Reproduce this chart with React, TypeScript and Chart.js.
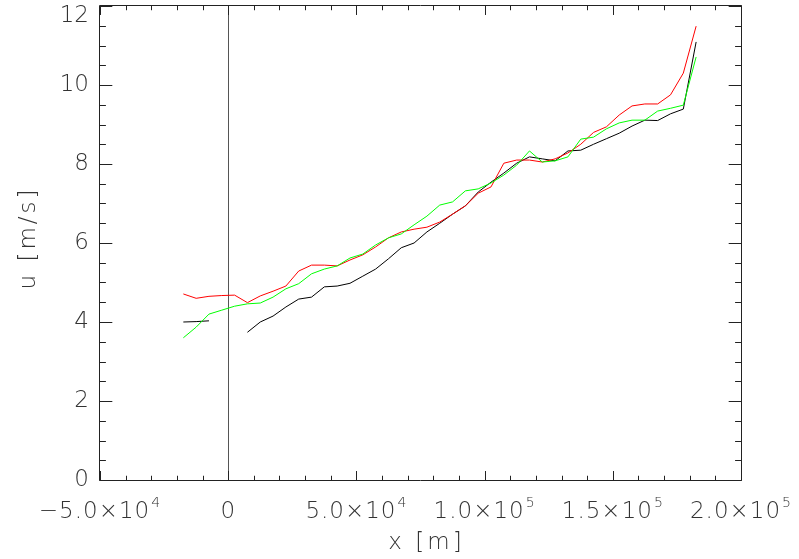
import { useEffect, useRef } from 'react';
import { Chart, registerables } from 'chart.js';

Chart.register(...registerables);

// Sample positions along x [m]
const xPositions = [
  -17500, -12500, -7500, -2500, 2500, 7500, 12500, 17500, 22500, 27500,
  32500, 37500, 42500, 47500, 52500, 57500, 62500, 67500, 72500, 77500,
  82500, 87500, 92500, 97500, 102500, 107500, 112500, 117500, 122500, 127500,
  132500, 137500, 142500, 147500, 152500, 157500, 162500, 167500, 172500, 177500,
  182500,
];

// u [m/s] — black series (gap between -7500 and 7500)
const uBlack = [
  4.0, 4.01, 4.03, null, null, 3.74, 4.0, 4.15, 4.38, 4.58,
  4.63, 4.89, 4.91, 4.98, 5.16, 5.34, 5.6, 5.88, 6.0, 6.28,
  6.5, 6.73, 6.94, 7.29, 7.54, 7.77, 8.02, 8.18, 8.13, 8.08,
  8.33, 8.35, 8.5, 8.64, 8.78, 8.96, 9.11, 9.1, 9.27, 9.39,
  11.09,
];

// u [m/s] — red series
const uRed = [
  4.71, 4.6, 4.65, 4.67, 4.68, 4.49, 4.66, 4.78, 4.91, 5.29,
  5.44, 5.44, 5.42, 5.57, 5.7, 5.9, 6.13, 6.28, 6.35, 6.4,
  6.53, 6.73, 6.94, 7.26, 7.42, 8.02, 8.1, 8.1, 8.05, 8.13,
  8.28, 8.5, 8.8, 8.94, 9.24, 9.47, 9.52, 9.52, 9.75, 10.3,
  11.49,
];

// u [m/s] — green series
const uGreen = [
  3.6, 3.87, 4.2, 4.3, 4.4, 4.46, 4.48, 4.63, 4.84, 4.97,
  5.22, 5.34, 5.42, 5.62, 5.72, 5.95, 6.13, 6.23, 6.46, 6.68,
  6.96, 7.04, 7.32, 7.37, 7.52, 7.72, 7.97, 8.33, 8.05, 8.08,
  8.18, 8.63, 8.68, 8.89, 9.04, 9.11, 9.11, 9.34, 9.41, 9.49,
  10.71,
];

// Axis tick labels
const xTickValues = [-50000, 0, 50000, 100000, 150000, 200000];
const xTickMantissa = ['\u22125.0\u00d710', '0', '5.0\u00d710', '1.0\u00d710', '1.5\u00d710', '2.0\u00d710'];
const xTickExponent = ['4', '', '4', '5', '5', '5'];
const yTickValues = [0, 2, 4, 6, 8, 10, 12];
const yTickLabels = ['0', '2', '4', '6', '8', '10', '12'];

const xTitle = 'x [m]';
const yTitle = 'u [m/s]';

const FONT_FAMILY = '"DejaVu Sans", "Liberation Sans", sans-serif';
const FONT_WEIGHT = '200';
const TEXT_COLOR = '#333333';

const idlAxesPlugin = {
  id: 'idlAxes',
  beforeDatasetsDraw(chart: any) {
    const { ctx, chartArea } = chart;
    const xs = chart.scales.x;
    const x0 = Math.round(xs.getPixelForValue(0)) + 0.5;
    ctx.save();
    ctx.strokeStyle = '#555';
    ctx.lineWidth = 1;
    ctx.beginPath();
    ctx.moveTo(x0, chartArea.top);
    ctx.lineTo(x0, chartArea.bottom);
    ctx.stroke();
    ctx.restore();
  },
  afterDraw(chart: any) {
    const { ctx, chartArea } = chart;
    const xs = chart.scales.x;
    const ys = chart.scales.y;
    const { left, right, top, bottom } = chartArea;
    const L = Math.round(left) - 0.5;
    const R = Math.round(right) + 0.5;
    const T = Math.round(top) - 0.5;
    const B = Math.round(bottom) + 0.5;
    const w = right - left;
    const h = bottom - top;

    ctx.save();
    ctx.strokeStyle = '#222';
    ctx.lineWidth = 1;
    ctx.beginPath();
    ctx.rect(L, T, R - L, B - T);
    ctx.stroke();

    // ticks (inward, on all four sides)
    const xMajor = h * 0.02;
    const yMajor = w * 0.02;
    ctx.beginPath();
    for (let v = xs.min; v <= xs.max + 1; v += 10000) {
      const px = Math.round(xs.getPixelForValue(v)) + 0.5;
      const len = v % 50000 === 0 ? xMajor : xMajor / 2;
      ctx.moveTo(px, B);
      ctx.lineTo(px, B - len);
      ctx.moveTo(px, T);
      ctx.lineTo(px, T + len);
    }
    for (let v = ys.min; v <= ys.max + 1e-6; v += 0.5) {
      const py = Math.round(ys.getPixelForValue(v)) + 0.5;
      const len = Math.abs(v % 2) < 1e-6 ? yMajor : yMajor / 2;
      ctx.moveTo(L, py);
      ctx.lineTo(L + len, py);
      ctx.moveTo(R, py);
      ctx.lineTo(R - len, py);
    }
    ctx.stroke();

    // tick labels
    ctx.fillStyle = TEXT_COLOR;
    const mainFont = `${FONT_WEIGHT} 23px ${FONT_FAMILY}`;
    const expFont = `${FONT_WEIGHT} 14px ${FONT_FAMILY}`;
    ctx.textBaseline = 'alphabetic';
    ctx.textAlign = 'left';
    (ctx as any).letterSpacing = '1px';
    xTickValues.forEach((v, i) => {
      const px = xs.getPixelForValue(v);
      ctx.font = mainFont;
      const m = xTickMantissa[i];
      const mw = ctx.measureText(m).width;
      ctx.font = expFont;
      const e = xTickExponent[i];
      const ew = e ? ctx.measureText(e).width + 1 : 0;
      const start = px - (mw + ew) / 2;
      const base = bottom + 38;
      ctx.font = mainFont;
      ctx.fillText(m, start, base);
      if (e) {
        ctx.font = expFont;
        ctx.fillText(e, start + mw + 1, base - 11);
      }
    });

    (ctx as any).letterSpacing = '0px';
    ctx.font = mainFont;
    ctx.textAlign = 'right';
    ctx.textBaseline = 'middle';
    yTickValues.forEach((v, i) => {
      const py = Math.max(ys.getPixelForValue(v), 16);
      ctx.fillText(yTickLabels[i], left - 11, py);
    });

    // axis titles
    (ctx as any).letterSpacing = '3px';
    ctx.font = `${FONT_WEIGHT} 23px ${FONT_FAMILY}`;
    ctx.textAlign = 'center';
    ctx.textBaseline = 'middle';
    ctx.fillText(xTitle, (left + right) / 2 + 6, bottom + 63);
    ctx.save();
    ctx.translate(left - 71, (top + bottom) / 2 - 5);
    ctx.rotate(-Math.PI / 2);
    ctx.fillText(yTitle, 0, 0);
    ctx.restore();
    ctx.restore();
  },
};

export default function App() {
  const canvasRef = useRef<HTMLCanvasElement | null>(null);

  useEffect(() => {
    const canvas = canvasRef.current;
    if (!canvas) return;
    const toPoints = (ys: (number | null)[]) => xPositions.map((x, i) => ({ x, y: ys[i] }));
    const chart = new Chart(canvas, {
      type: 'line',
      data: {
        datasets: [
          {
            label: 'black',
            data: toPoints(uBlack) as any,
            borderColor: '#000000',
            borderWidth: 1,
            pointRadius: 0,
            tension: 0,
            spanGaps: false,
            order: 3,
          },
          {
            label: 'red',
            data: toPoints(uRed) as any,
            borderColor: '#ff0000',
            borderWidth: 1,
            pointRadius: 0,
            tension: 0,
            order: 2,
          },
          {
            label: 'green',
            data: toPoints(uGreen) as any,
            borderColor: '#00ff00',
            borderWidth: 1,
            pointRadius: 0,
            tension: 0,
            order: 1,
          },
        ],
      },
      options: {
        responsive: false,
        animation: false,
        devicePixelRatio: 1,
        layout: { padding: { top: 6, right: 58, left: 0, bottom: 0 } },
        plugins: {
          legend: { display: false },
          tooltip: { enabled: false },
          title: { display: false },
        },
        events: [],
        scales: {
          x: {
            type: 'linear',
            min: -50000,
            max: 200000,
            grid: { display: false },
            border: { display: false },
            ticks: { display: false, stepSize: 50000 },
            afterFit: (scale: any) => {
              scale.height = 79;
              scale.paddingLeft = 0;
              scale.paddingRight = 0;
            },
          },
          y: {
            type: 'linear',
            min: 0,
            max: 12,
            grid: { display: false },
            border: { display: false },
            ticks: { display: false, stepSize: 2 },
            afterFit: (scale: any) => {
              scale.width = 100;
              scale.paddingTop = 0;
              scale.paddingBottom = 0;
            },
          },
        },
      },
      plugins: [idlAxesPlugin],
    });
    return () => chart.destroy();
  }, []);

  return (
    <div style={{ position: 'absolute', left: 0, top: 0, width: 799, height: 559, background: '#fff' }}>
      <canvas ref={canvasRef} width={799} height={559} style={{ display: 'block', width: 799, height: 559 }} />
    </div>
  );
}
